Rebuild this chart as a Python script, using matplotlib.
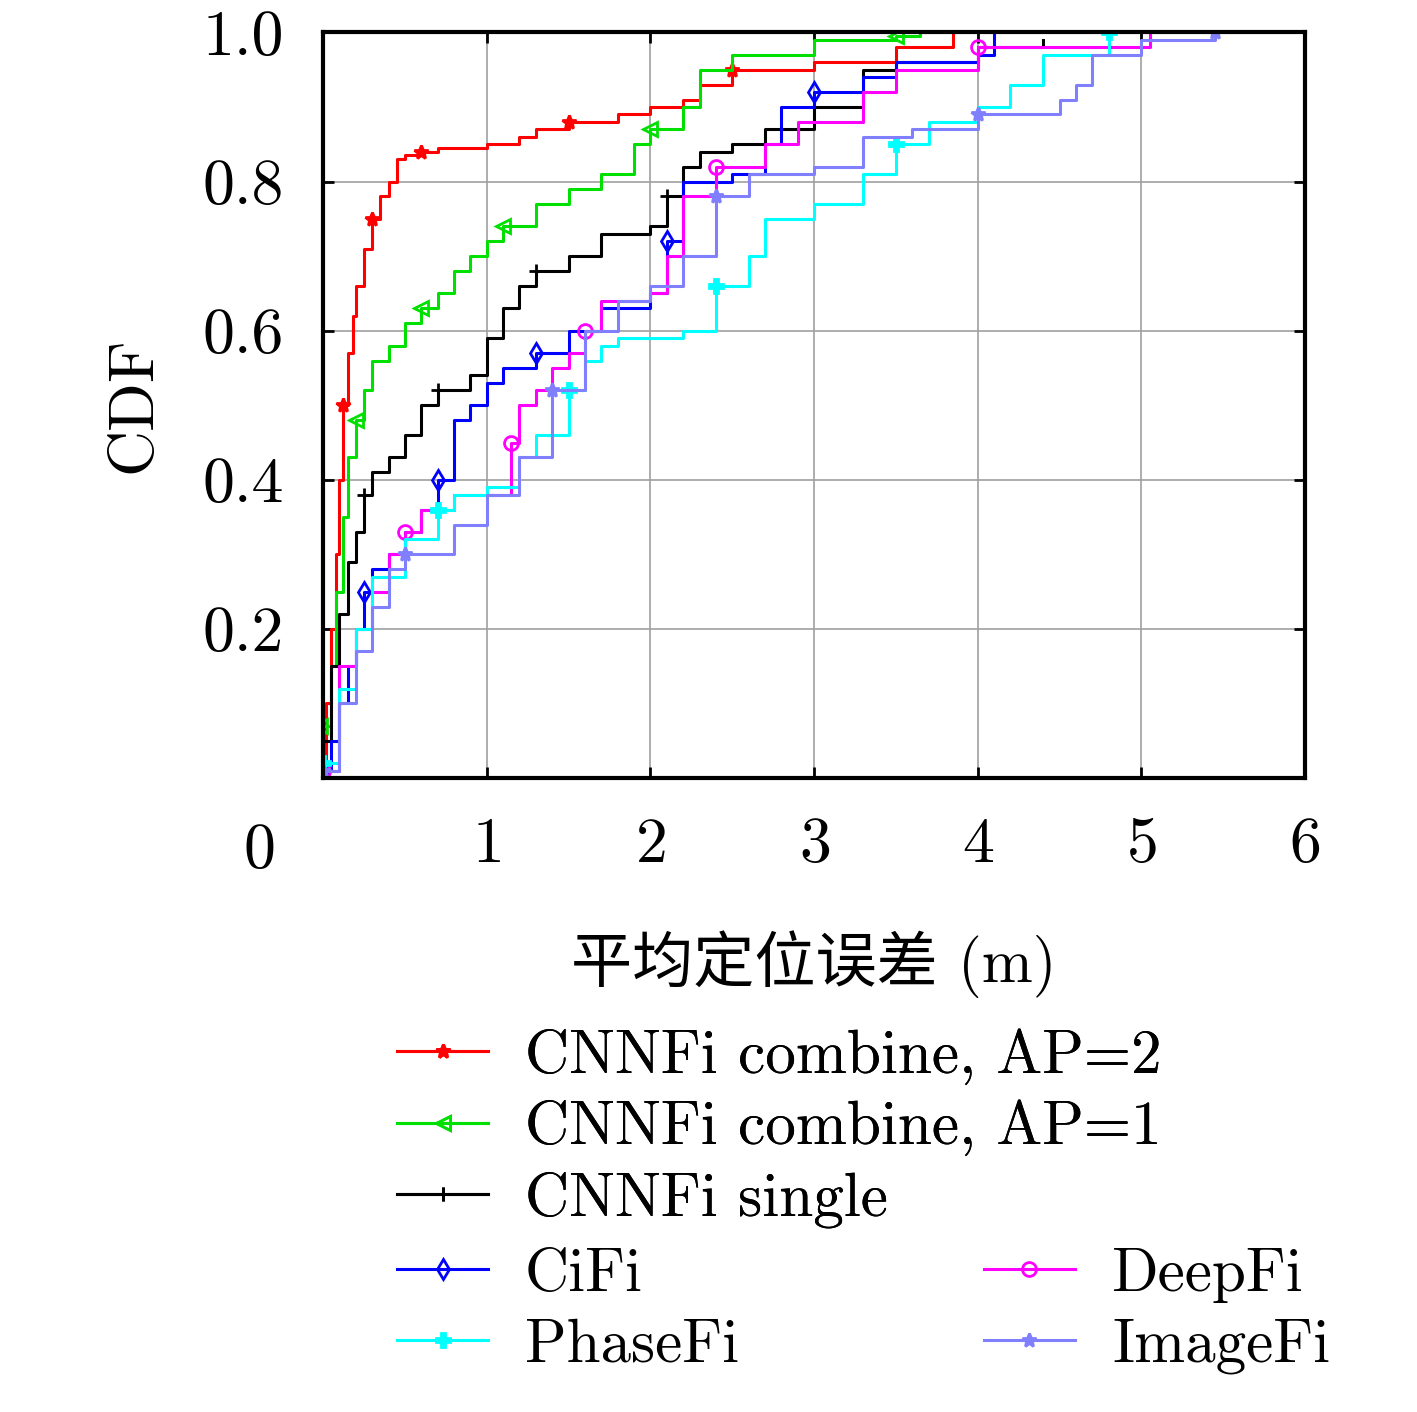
import matplotlib
matplotlib.use('Agg')
import matplotlib.pyplot as plt

plt.rcParams['font.family'] = ['cmr10', 'Noto Sans CJK SC', 'DejaVu Sans']
plt.rcParams['axes.formatter.use_mathtext'] = True

# step CDF estimates
red_x = [0, 0.02, 0.05, 0.08, 0.1, 0.12, 0.15, 0.18, 0.2, 0.25, 0.3, 0.35, 0.4, 0.45, 0.5, 0.6, 0.7, 1.0, 1.2, 1.3, 1.5, 1.8, 2.0, 2.2, 2.3, 2.5, 3.0, 3.5, 3.85]
red_y = [0, 0.1, 0.2, 0.3, 0.4, 0.5, 0.57, 0.62, 0.66, 0.71, 0.75, 0.78, 0.8, 0.83, 0.835, 0.84, 0.845, 0.85, 0.86, 0.87, 0.88, 0.89, 0.9, 0.91, 0.93, 0.95, 0.96, 0.98, 1.0]
green_x = [-0.02, 0.05, 0.08, 0.12, 0.15, 0.2, 0.25, 0.3, 0.4, 0.5, 0.6, 0.7, 0.8, 0.9, 1.0, 1.1, 1.3, 1.5, 1.7, 1.9, 2.0, 2.2, 2.3, 2.5, 3.0, 3.5, 3.65]
green_y = [0.07, 0.15, 0.25, 0.35, 0.43, 0.48, 0.52, 0.56, 0.58, 0.61, 0.63, 0.65, 0.68, 0.7, 0.72, 0.74, 0.77, 0.79, 0.81, 0.85, 0.87, 0.9, 0.95, 0.97, 0.99, 0.995, 1.0]
black_x = [0, 0.05, 0.1, 0.15, 0.2, 0.25, 0.3, 0.4, 0.5, 0.6, 0.7, 0.9, 1.0, 1.1, 1.2, 1.3, 1.5, 1.7, 1.9, 2.0, 2.1, 2.2, 2.3, 2.5, 2.7, 3.0, 3.3, 3.5, 4.0, 4.4]
black_y = [0.05, 0.15, 0.22, 0.29, 0.33, 0.38, 0.41, 0.43, 0.46, 0.5, 0.52, 0.54, 0.59, 0.63, 0.66, 0.68, 0.7, 0.73, 0.73, 0.74, 0.78, 0.82, 0.84, 0.85, 0.87, 0.9, 0.95, 0.96, 0.98, 0.99]
blue_x = [0, 0.05, 0.1, 0.15, 0.2, 0.25, 0.3, 0.4, 0.5, 0.6, 0.7, 0.8, 0.9, 1.0, 1.1, 1.3, 1.5, 1.7, 1.9, 2.0, 2.1, 2.2, 2.5, 2.7, 2.8, 3.0, 3.3, 3.5, 4.0, 4.1]
blue_y = [0.01, 0.05, 0.1, 0.15, 0.2, 0.25, 0.28, 0.3, 0.33, 0.36, 0.4, 0.48, 0.5, 0.53, 0.55, 0.57, 0.6, 0.63, 0.63, 0.65, 0.72, 0.8, 0.81, 0.85, 0.9, 0.92, 0.94, 0.96, 0.97, 1.0]
mag_x = [0, 0.1, 0.2, 0.3, 0.4, 0.5, 0.6, 0.7, 0.8, 1.0, 1.15, 1.2, 1.3, 1.4, 1.5, 1.6, 1.7, 2.0, 2.1, 2.2, 2.4, 2.7, 2.9, 3.3, 3.5, 4.0, 5.05]
mag_y = [0.01, 0.15, 0.2, 0.25, 0.3, 0.33, 0.36, 0.36, 0.38, 0.38, 0.45, 0.5, 0.52, 0.55, 0.57, 0.6, 0.64, 0.65, 0.7, 0.78, 0.82, 0.85, 0.88, 0.92, 0.95, 0.98, 1.0]
cyan_x = [0, 0.1, 0.2, 0.3, 0.5, 0.7, 0.8, 1.0, 1.2, 1.3, 1.5, 1.6, 1.7, 1.8, 2.2, 2.4, 2.6, 2.7, 3.0, 3.3, 3.5, 3.7, 4.0, 4.2, 4.4, 4.8]
cyan_y = [0.02, 0.12, 0.2, 0.27, 0.32, 0.36, 0.38, 0.39, 0.43, 0.46, 0.52, 0.56, 0.58, 0.59, 0.6, 0.66, 0.7, 0.75, 0.77, 0.81, 0.85, 0.88, 0.9, 0.93, 0.97, 1.0]
img_x = [0, 0.1, 0.2, 0.3, 0.4, 0.5, 0.7, 0.8, 1.0, 1.2, 1.4, 1.6, 1.8, 2.0, 2.2, 2.4, 2.6, 3.0, 3.3, 3.6, 4.0, 4.5, 4.6, 4.7, 5.0, 5.45]
img_y = [0.01, 0.1, 0.17, 0.23, 0.28, 0.3, 0.3, 0.34, 0.38, 0.43, 0.52, 0.6, 0.64, 0.66, 0.7, 0.78, 0.81, 0.82, 0.86, 0.87, 0.89, 0.91, 0.93, 0.97, 0.99, 1.0]

series = [
    ('CNNFi combine, AP=2', red_x, red_y, '#ff0000', '*'),
    ('CNNFi combine, AP=1', green_x, green_y, '#00e000', '<'),
    ('CNNFi single', black_x, black_y, 'black', '+'),
    ('CiFi', blue_x, blue_y, '#0000ff', 'd'),
    ('DeepFi', mag_x, mag_y, '#ff00ff', 'o'),
    ('PhaseFi', cyan_x, cyan_y, '#00ffff', 'P'),
    ('ImageFi', img_x, img_y, '#8080ff', '*'),
]

fig = plt.figure(figsize=(14.17, 14.12), dpi=100)
ax = fig.add_axes([0.228, 0.449, 0.693, 0.528])
lines = []
for name, xs, ys, c, m in series:
    l, = ax.step(xs, ys, where='post', color=c, lw=2.2, marker=m, ms=10,
                 mfc='none' if m in ('d', 'o', '<') else c, mew=2, markevery=5, label=name)
    lines.append(l)

ax.set_xlim(0, 6)
ax.set_ylim(0, 1)
ax.set_xticks([1, 2, 3, 4, 5, 6])
ax.set_yticks([0.2, 0.4, 0.6, 0.8, 1.0])
ax.set_yticklabels(['0.2', '0.4', '0.6', '0.8', '1.0'])
ax.grid(True, color='#a0a0a0', lw=1.2)
ax.tick_params(direction='in', top=True, right=True, length=8, width=2, labelsize=46, pad=28)
for s in ax.spines.values():
    s.set_linewidth(3)
ax.text(-0.39, -0.06, '0', fontsize=46, ha='center', va='top')
ax.set_ylabel('CDF', fontsize=46, labelpad=28)
ax.set_xlabel('平均定位误差 (m)', fontsize=44, labelpad=40)

kw = dict(loc='upper left', frameon=False, fontsize=44, handlelength=1.5,
          handletextpad=0.6, labelspacing=0.25, borderpad=0, borderaxespad=0)
leg1 = fig.legend(lines[:3], [s[0] for s in series[:3]],
                  bbox_to_anchor=(0.28, 0.272), **kw)
fig.add_artist(leg1)
order = [3, 5, 4, 6]
fig.legend([lines[i] for i in order], [series[i][0] for i in order],
           bbox_to_anchor=(0.28, 0.1165), ncol=2, columnspacing=4.0, **kw)

fig.savefig('out.png', dpi=100)
